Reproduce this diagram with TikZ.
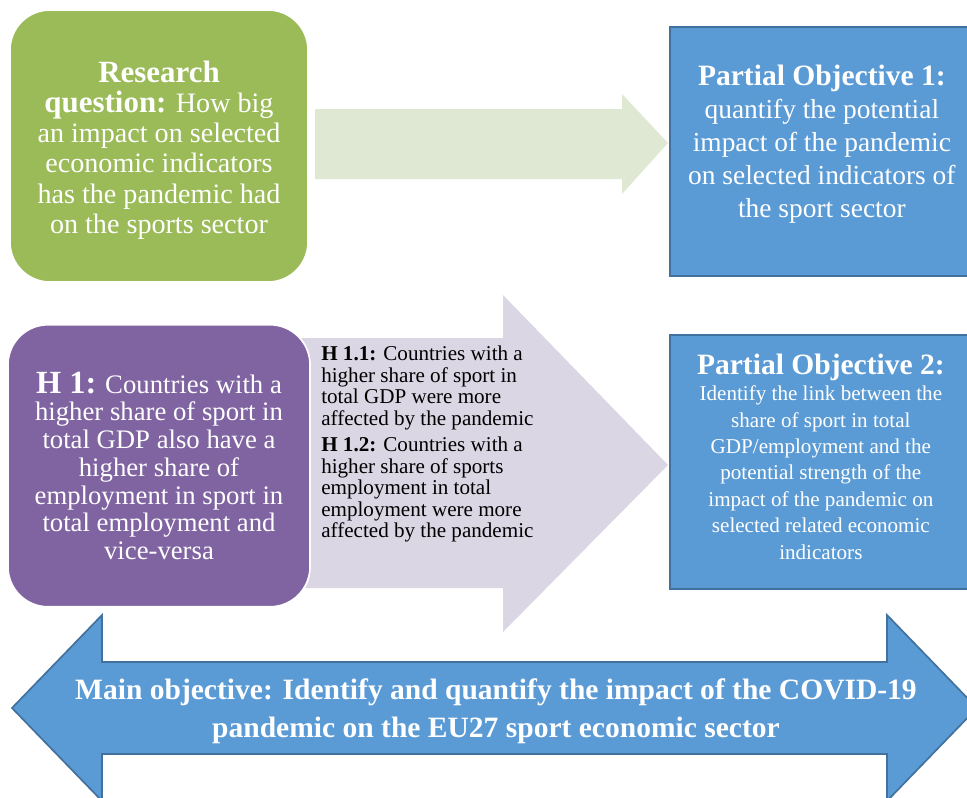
\documentclass[tikz,border=0pt]{standalone}
\usepackage{fontspec}
\setmainfont{Liberation Serif}
\usetikzlibrary{positioning}
\definecolor{rqgreen}{HTML}{9BBB59}
\definecolor{palegreen}{HTML}{DFE8D2}
\definecolor{objblue}{HTML}{5B9BD5}
\definecolor{objedge}{HTML}{41719C}
\definecolor{hpurple}{HTML}{8064A2}
\definecolor{lavender}{HTML}{DAD6E3}

\begin{document}
\begin{tikzpicture}[x=0.025cm, y=-0.025cm,
    roundbox/.style={rounded corners=1cm, draw=white, line width=1.2pt, text=white, align=center, inner sep=0pt},
    objbox/.style={fill=objblue, draw=objedge, line width=1.2pt, inner sep=0pt},
    boxtext/.style={text=white, align=center, inner sep=0pt}]
  \useasboundingbox (0,0) rectangle (967,797);
  \clip (0,0) rectangle (967,797);
  % block arrows behind the boxes
  \fill[palegreen] (315,109) -- (622,109) -- (622,94) -- (668,143) -- (622,194) -- (622,179) -- (315,179) -- cycle;
  \fill[lavender] (300,338) -- (503,338) -- (503,295) -- (668,465) -- (503,632) -- (503,588) -- (300,588) -- cycle;
  % boxes
  \node[roundbox, fill=rqgreen, minimum width=7.45cm, minimum height=6.8cm] (question) at (159,146) {};
  \node[boxtext, font=\fontsize{20}{21.5}\selectfont] (questiontext) at ([yshift=-0.1cm]question.center)
    {{\fontsize{22}{21.5}\selectfont\bfseries Research}\\{\fontsize{22}{21.5}\selectfont\bfseries question:} How big\\an impact on selected\\economic indicators\\has the pandemic had\\on the sports sector};
  \node[objbox, minimum width=7.6cm, minimum height=6.225cm, right=9cm of question, yshift=-0.14cm] (objective1) {};
  \node[boxtext, font=\fontsize{19.5}{23.5}\selectfont] (objective1text) at ([yshift=0.18cm]objective1.center)
    {{\fontsize{21}{23.5}\selectfont\bfseries Partial Objective 1:}\\quantify the potential\\impact of the pandemic\\on selected indicators of\\the sport sector};
  \node[roundbox, fill=hpurple, minimum width=7.55cm, minimum height=7.05cm, below=1.025cm of question, font=\fontsize{19}{19.7}\selectfont] (hypothesis)
    {{\fontsize{23}{19.7}\selectfont\bfseries H 1:} Countries with a\\higher share of sport in\\total GDP also have a\\higher share of\\employment in sport in\\total employment and\\vice-versa};
  \node[objbox, minimum width=7.55cm, minimum height=6.35cm, right=8.95cm of hypothesis, yshift=0.1cm] (objective2) {};
  \node[boxtext, font=\fontsize{15}{18.8}\selectfont] (objective2text) at ([yshift=0.13cm]objective2.center)
    {{\fontsize{21}{18.8}\selectfont\bfseries Partial Objective 2:}\\Identify the link between the\\share of sport in total\\GDP/employment and the\\potential strength of the\\impact of the pandemic on\\selected related economic\\indicators};
  \node[anchor=north west, align=left, inner sep=0pt, font=\fontsize{15}{15.3}\selectfont] (subhyp) at (321,346)
    {\textbf{H 1.1:} Countries with a\\higher share of sport in\\total GDP were more\\affected by the pandemic\\[3.5pt]\textbf{H 1.2:} Countries with a\\higher share of sports\\employment in total\\employment were more\\affected by the pandemic};
  % main objective, double arrow
  \filldraw[fill=objblue, draw=objedge, line width=1.2pt] (12,708) -- (102,615) -- (102,662) -- (887,662) -- (887,615) -- (977,708)
    -- (887,801) -- (887,754) -- (102,754) -- (102,801) -- cycle;
  \node[boxtext, font=\fontsize{21}{27}\selectfont\bfseries] (mainobj) at (496,711)
    {Main objective: Identify and quantify the impact of the COVID-19\\pandemic on the EU27 sport economic sector};
\end{tikzpicture}
\end{document}
